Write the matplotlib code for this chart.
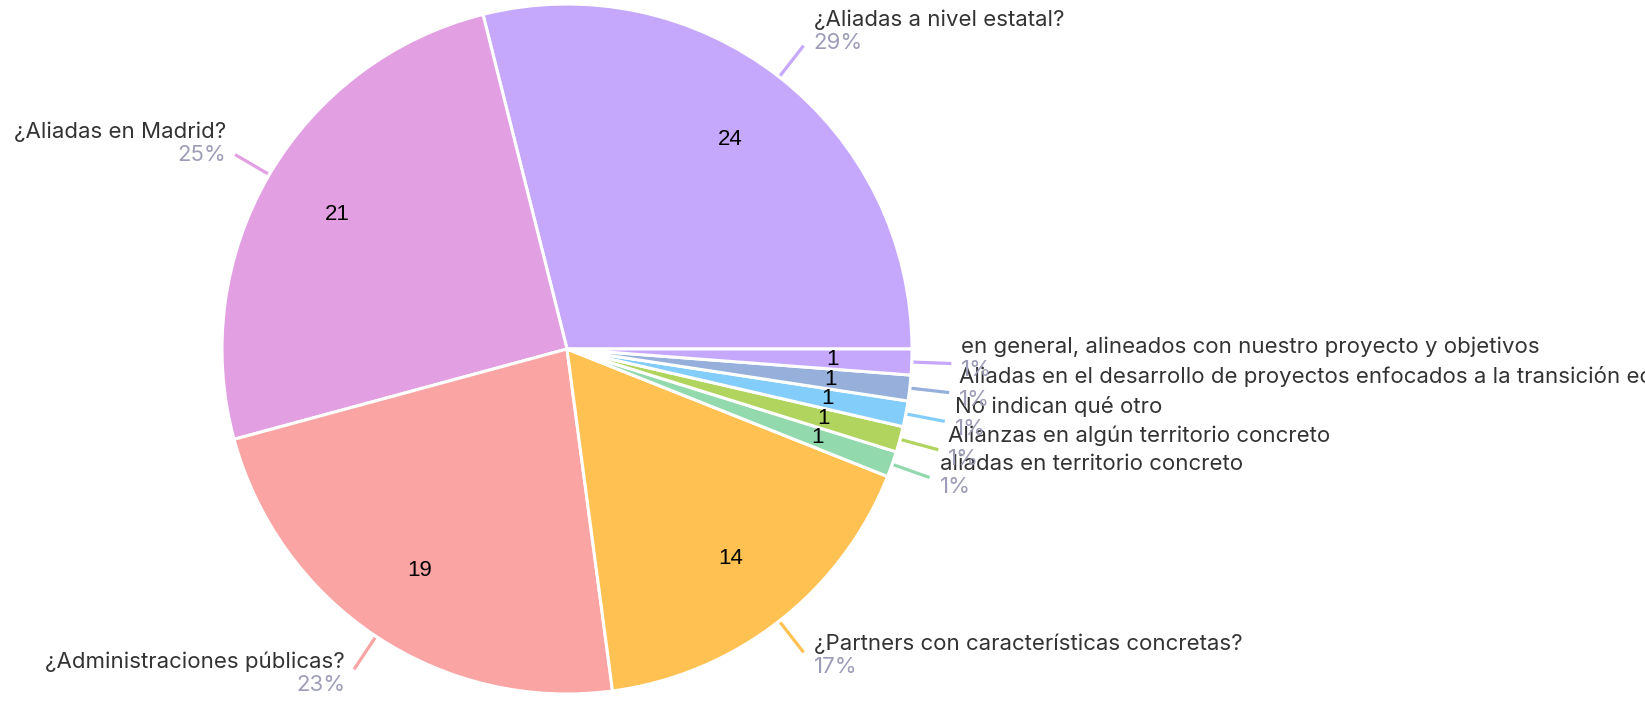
import numpy as np
import matplotlib
matplotlib.use("Agg")
import matplotlib.pyplot as plt

# ---- data ----
categories = [
    "¿Aliadas a nivel estatal?",
    "¿Aliadas en Madrid?",
    "¿Administraciones públicas?",
    "¿Partners con características concretas?",
    "aliadas en territorio concreto",
    "Alianzas en algún territorio concreto",
    "No indican qué otro",
    "Aliadas en el desarrollo de proyectos enfocados a la transición ecológica",
    "en general, alineados con nuestro proyecto y objetivos",
]
counts = [24, 21, 19, 14, 1, 1, 1, 1, 1]
colors = ["#c5a8fc", "#e2a0e3", "#fba4a4", "#ffc252", "#92d9ae",
          "#b0d45e", "#82cdfa", "#96afdb", "#c5a8fc"]

W, H = 1645, 701
fig = plt.figure(figsize=(W / 100, H / 100), dpi=100)
ax = fig.add_axes([0, 0, 1, 1])

cx, cy = 567, H - 349
R = 345

wedges, _ = ax.pie(counts, colors=colors, startangle=0, counterclock=True,
                   center=(cx, cy), radius=R,
                   wedgeprops=dict(edgecolor="white", linewidth=2.2))
ax.set_xlim(0, W)
ax.set_ylim(0, H)
ax.set_aspect("equal")
ax.axis("off")

total = sum(counts)
name_font = "Inter"
name_color = "#333333"
pct_color = "#9d9db8"

for w, name, n, col in zip(wedges, categories, counts, colors):
    mid = np.deg2rad((w.theta1 + w.theta2) / 2)
    c, s = np.cos(mid), np.sin(mid)
    # inner value label
    ax.text(cx + 0.77 * R * c, cy + 0.77 * R * s, str(n), ha="center", va="center",
            fontsize=16, color="black", family="Liberation Sans")
    # leader line
    r0, r1 = 1.005 * R, 1.115 * R
    x0, y0 = cx + r0 * c, cy + r0 * s
    x1, y1 = cx + r1 * c, cy + r1 * s
    ax.plot([x0, x1], [y0, y1], color=col, lw=2.3, solid_capstyle="butt")
    # text block
    off = 6 + 11 * s  # block center shift (upwards positive)
    right = c >= 0
    tx = x1 + 10 if right else x1 - 9
    ha = "left" if right else "right"
    pct = f"{round(100 * n / total)}%"
    ax.text(tx, y1 + off + 11, name, ha=ha, va="center", fontsize=16,
            color=name_color, family=name_font, clip_on=False)
    ax.text(tx, y1 + off - 12, pct, ha=ha, va="center", fontsize=16,
            color=pct_color, family=name_font, clip_on=False)

fig.savefig("out.png", dpi=100, facecolor="white")
